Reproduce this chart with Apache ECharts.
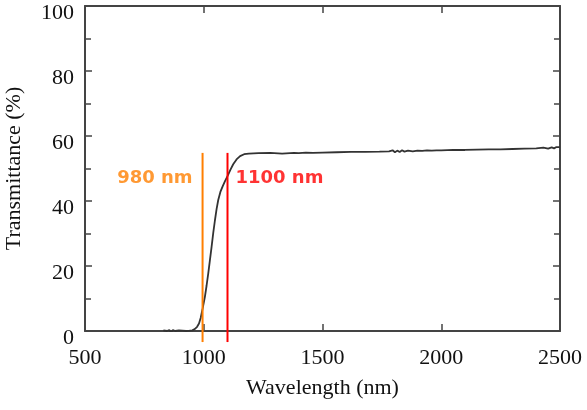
<!DOCTYPE html>
<html>
<head>
<meta charset="utf-8">
<script src="https://cdn.jsdelivr.net/npm/echarts@6/dist/echarts.min.js"></script>
<style>
html, body { margin: 0; padding: 0; background: #fff; }
#chart { width: 587px; height: 410px; }
</style>
</head>
<body>
<div id="chart"></div>
<script>
// 透过率曲线
var wavelength = [830, 845, 855, 862, 870, 880, 895, 910, 925, 940, 952, 962, 972, 980, 987, 995,
    1005, 1012, 1019, 1026, 1033, 1040, 1047, 1054, 1061, 1070, 1080, 1090, 1101, 1112, 1124, 1138,
    1153, 1170, 1190, 1230, 1280, 1330, 1380, 1400, 1430, 1460, 1500, 1560, 1620, 1680, 1740, 1780,
    1795, 1805, 1815, 1825, 1835, 1845, 1860, 1880, 1900, 1920, 1940, 1960, 1980, 2000, 2050, 2100,
    2150, 2200, 2250, 2300, 2350, 2400, 2430, 2450, 2465, 2475, 2485, 2492, 2500];
var transmittance = [0.2, 0.0, 0.3, -0.4, 0.3, 0.0, 0.2, 0.1, 0.0, 0.1, 0.2, 0.6, 1.3, 2.3, 4.0, 6.8,
    10.6, 14.0, 17.7, 21.8, 25.9, 30.2, 34.0, 37.5, 40.3, 42.8, 44.6, 46.2, 47.8, 49.6, 51.3, 52.8,
    53.8, 54.4, 54.6, 54.7, 54.8, 54.6, 54.8, 54.7, 54.9, 54.8, 54.9, 55.0, 55.1, 55.1, 55.2, 55.3,
    55.6, 55.0, 55.5, 55.1, 55.6, 55.2, 55.5, 55.3, 55.5, 55.4, 55.6, 55.5, 55.6, 55.6, 55.7, 55.7,
    55.8, 55.9, 55.9, 56.0, 56.1, 56.2, 56.4, 56.1, 56.5, 56.2, 56.6, 56.3, 56.6];

// 两条竖线: 位置, 上下端, 颜色, 文字
var cutLines = [995, 1100];
var cutTop = 54.8, cutBottom = -3.4;
var cutColors = ['#ff7f00', '#ff0000'];
var cutTexts = ['980 nm', '1100 nm'];
var cutTextY = 47;

var xTicks = [500, 1000, 1500, 2000, 2500];
var yTicks = [0, 20, 40, 60, 80, 100];

var chartDom = document.getElementById('chart');
var myChart = echarts.init(chartDom);

var serifFont = 'Liberation Serif';
var axisColor = '#444';

var curve = wavelength.map((w, i) => [w, transmittance[i]]);

var series = [
    {
        type: 'line',
        data: curve,
        showSymbol: false,
        lineStyle: { color: '#333', width: 1.8 },
        z: 3
    }
];

cutLines.forEach((x, i) => {
    series.push({
        type: 'line',
        data: [[x, cutBottom], [x, cutTop]],
        showSymbol: false,
        clip: false,
        lineStyle: { color: cutColors[i], width: 2 },
        z: 4
    });
    series.push({
        type: 'scatter',
        data: [{ value: [x, cutTextY], name: cutTexts[i] }],
        symbolSize: 0,
        label: {
            show: true,
            position: i === 0 ? 'left' : 'right',
            distance: i === 0 ? 10 : 8,
            formatter: '{b}',
            color: cutColors[i],
            fontFamily: 'DejaVu Sans',
            fontWeight: 'bold',
            fontSize: 18
        },
        z: 5
    });
});

var baseX = {
    type: 'value',
    min: xTicks[0],
    max: xTicks[xTicks.length - 1],
    interval: 500,
    axisLine: { show: true, onZero: false, lineStyle: { color: axisColor, width: 2 } },
    axisTick: { show: true, inside: true, length: 7, lineStyle: { color: axisColor, width: 1.5 } },
    splitLine: { show: false }
};
var baseY = {
    type: 'value',
    min: yTicks[0],
    max: yTicks[yTicks.length - 1],
    interval: 20,
    axisLine: { show: true, onZero: false, lineStyle: { color: axisColor, width: 2 } },
    axisTick: { show: true, inside: true, length: 7, lineStyle: { color: axisColor, width: 1.5 } },
    minorTick: { show: true, splitNumber: 2, length: 6, lineStyle: { color: axisColor, width: 1.5 } },
    splitLine: { show: false }
};

var option = {
    animation: false,
    backgroundColor: '#fff',
    grid: { left: 85, right: 27, top: 6, bottom: 79, outerBoundsMode: 'none', containLabel: false },
    xAxis: [
        Object.assign({}, baseX, {
            position: 'bottom',
            name: 'Wavelength (nm)',
            nameLocation: 'middle',
            nameGap: 46,
            nameTextStyle: { fontFamily: serifFont, fontSize: 22, color: '#111' },
            axisLabel: { fontFamily: serifFont, fontSize: 22, color: '#111', margin: 16, formatter: v => String(v) }
        }),
        Object.assign({}, baseX, {
            position: 'top',
            axisLabel: { show: false }
        })
    ],
    yAxis: [
        Object.assign({}, baseY, {
            position: 'left',
            name: 'Transmittance (%)',
            nameLocation: 'middle',
            nameGap: 60,
            nameTextStyle: { fontFamily: serifFont, fontSize: 22, color: '#111' },
            axisLabel: {
                fontFamily: serifFont, fontSize: 22, color: '#111', margin: 11,
                verticalAlign: 'top', lineHeight: 14, formatter: v => String(v)
            }
        }),
        Object.assign({}, baseY, {
            position: 'right',
            axisLabel: { show: false }
        })
    ],
    series: series
};

option && myChart.setOption(option);
</script>
</body>
</html>
